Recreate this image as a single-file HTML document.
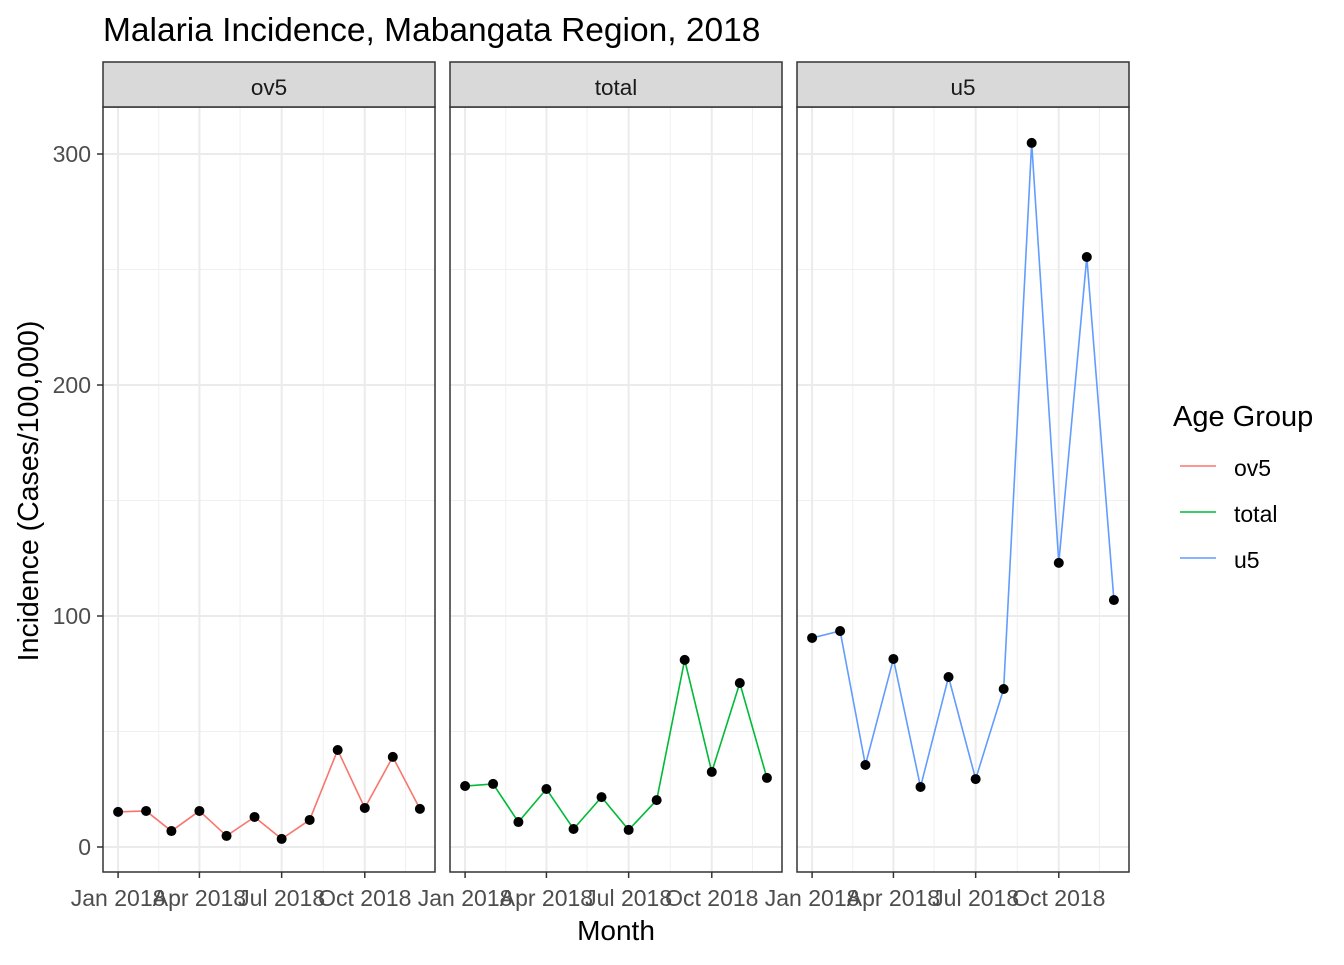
<!DOCTYPE html>
<html><head><meta charset="utf-8"><style>
body{margin:0;background:#fff;}
svg text{font-family:"Liberation Sans",Arial,sans-serif;}
</style></head><body>
<svg id="chart" width="1344" height="960" xmlns="http://www.w3.org/2000/svg">
<text x="103" y="41" font-size="33.5" fill="#000">Malaria Incidence, Mabangata Region, 2018</text>
<text transform="translate(38,491) rotate(-90)" text-anchor="middle" font-size="28.5" fill="#000">Incidence (Cases/100,000)</text>
<text x="616" y="940" text-anchor="middle" font-size="28" fill="#000">Month</text>
<g id="panels"></g>
<g>
<text x="1173" y="426" font-size="29" fill="#000">Age Group</text>
<line x1="1180" x2="1216" y1="466" y2="466" stroke="#F8766D" stroke-width="1.5"/>
<text x="1234" y="476" font-size="23">ov5</text>
<line x1="1180" x2="1216" y1="512" y2="512" stroke="#00BA38" stroke-width="1.5"/>
<text x="1234" y="522" font-size="23">total</text>
<line x1="1180" x2="1216" y1="558" y2="558" stroke="#619CFF" stroke-width="1.5"/>
<text x="1234" y="568" font-size="23">u5</text>
</g>
</svg>
<script>
const groups = ["ov5","total","u5"];
const colors = ["#F8766D","#00BA38","#619CFF"];
const months = ["2018-01-01","2018-02-01","2018-03-01","2018-04-01","2018-05-01","2018-06-01","2018-07-01","2018-08-01","2018-09-01","2018-10-01","2018-11-01","2018-12-01"];
const ov5 = [15.2,15.6,6.9,15.6,4.8,13,3.5,11.7,42,16.9,39,16.5];
const total = [26.4,27.3,10.8,25.1,7.8,21.6,7.4,20.3,81,32.5,71,29.9];
const u5 = [90.5,93.5,35.5,81.4,26,73.6,29.4,68.4,304.8,123,255.4,106.9];
const yTicks = [0,100,200,300];
const yMinor = [50,150,250];
const xTickDates = ["2018-01-01","2018-04-01","2018-07-01","2018-10-01"];
const xTickLabels = ["Jan 2018","Apr 2018","Jul 2018","Oct 2018"];
const xMinorDates = ["2018-02-15","2018-05-16","2018-08-16","2018-11-15"];
const series = [ov5,total,u5];

const NS="http://www.w3.org/2000/svg";
const root=document.getElementById('panels');
const panelLefts=[103,450,797], PW=332, PT=107, PB=872;
const t0=Date.parse(months[0]), t1=Date.parse(months[months.length-1]);
const span=(t1-t0), pad=span*0.05;
function xs(d,left){return left+(Date.parse(d)-(t0-pad))/(span+2*pad)*PW;}
function ys(v){return 847-v*2.31;}
function mk(tag,attrs,parent){const e=document.createElementNS(NS,tag);for(const k in attrs)e.setAttribute(k,attrs[k]);parent.appendChild(e);return e;}

groups.forEach((g,i)=>{
  const L=panelLefts[i];
  const pg=mk('g',{},root);
  
  
  yMinor.forEach(v=>{mk('line',{x1:L,x2:L+PW,y1:ys(v),y2:ys(v),stroke:'#f0f0f0','stroke-width':1},pg);});
  xMinorDates.forEach(d=>{mk('line',{x1:xs(d,L),x2:xs(d,L),y1:PT,y2:PB,stroke:'#f0f0f0','stroke-width':1},pg);});
  yTicks.forEach(v=>{mk('line',{x1:L,x2:L+PW,y1:ys(v),y2:ys(v),stroke:'#ebebeb','stroke-width':2},pg);});
  xTickDates.forEach((d,j)=>{
    const x=xs(d,L);
    mk('line',{x1:x,x2:x,y1:PT,y2:PB,stroke:'#ebebeb','stroke-width':2},pg);
    mk('line',{x1:x,x2:x,y1:PB,y2:PB+6,stroke:'#333','stroke-width':1.5},pg);
    const t=mk('text',{x:x,y:PB+34,'text-anchor':'middle','font-size':23,fill:'#4d4d4d'},pg);
    t.textContent=xTickLabels[j];
    
    
  });
  const pts=series[i].map((v,k)=>xs(months[k],L)+','+ys(v)).join(' ');
  const line=mk('polyline',{points:pts,fill:'none',stroke:colors[i],'stroke-width':1.6},pg);
  
  
  series[i].forEach((v,k)=>{
    const c=mk('circle',{cx:xs(months[k],L),cy:ys(v),r:5,fill:'#000'},pg);
    
    
  });
  mk('rect',{x:L,y:PT,width:PW,height:PB-PT,fill:'none',stroke:'#333','stroke-width':1.5},pg);
  const s=mk('rect',{x:L,y:62,width:PW,height:45,fill:'#d9d9d9',stroke:'#333','stroke-width':1.5},pg);
  
  
  const st=mk('text',{x:L+PW/2,y:95,'text-anchor':'middle','font-size':22.5,fill:'#1a1a1a'},pg);
  st.textContent=g;
  
  
  if(i===0){
    yTicks.forEach(v=>{
      mk('line',{x1:L-6,x2:L,y1:ys(v),y2:ys(v),stroke:'#333','stroke-width':1.5},pg);
      const t=mk('text',{x:L-12,y:ys(v)+8,'text-anchor':'end','font-size':23,fill:'#4d4d4d'},pg);
      t.textContent=v;
      
      
    });
  }
});
</script>
</body></html>
